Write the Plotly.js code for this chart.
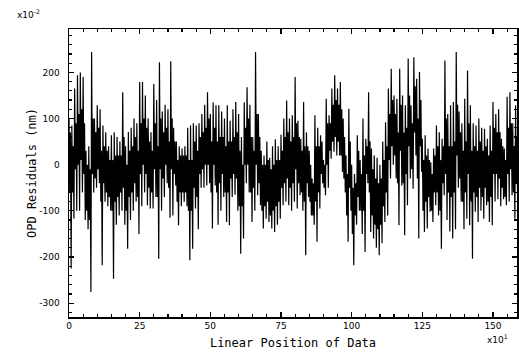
<!DOCTYPE html>
<html>
<head>
<meta charset="utf-8">
<script src="https://cdn.plot.ly/plotly-3.0.1.min.js"></script>
<style>html,body{margin:0;padding:0;background:#fff;}#chart{width:519px;height:357px;}</style>
</head>
<body>
<div id="chart"></div>
<script>
// Residuals: for each unit of x (x10^1 positions)
// the spike peak, the dense-band bottom, the dense-band top and the spike trough
const peakValues = [
  100,85,165,194,200,190,30,40,244,100,129,120,85,70,40,64,70,60,50,157,40,71,80,100,90,179,
  179,150,100,70,175,140,222,115,130,120,224,80,50,40,35,40,80,85,90,85,90,110,130,157,110,135,129,
  129,115,100,129,95,120,136,110,60,135,168,130,60,244,110,30,20,50,15,40,55,40,65,100,139,100,107,
  190,95,56,136,70,30,-30,107,80,64,10,143,107,165,194,165,179,100,20,121,0,-20,64,10,100,56,
  157,35,20,15,0,50,92,165,208,150,143,208,150,129,230,129,233,186,201,56,64,35,5,35,85,70,56,
  226,110,129,136,244,115,90,143,204,129,90,85,100,80,78,56,85,136,110,120,56,35,147,157,90,129
];
const bandLowerValues = [
  -60,-60,-10,0,10,-20,-100,-120,-20,-30,-10,-80,-40,-60,-70,-100,-80,-70,-60,-50,-100,-70,-60,-40,-70,-20,
  0,-20,-50,-60,-10,-70,-10,-30,0,-50,-10,-20,-80,-60,-60,-60,-100,-100,-50,-70,-20,-10,0,0,-60,0,-60,
  -40,-20,-60,-60,-30,-20,-30,-90,-90,0,0,-60,-50,0,-40,-100,-90,-80,-110,-100,-90,-80,-50,-40,-30,-50,-40,
  -10,-40,-60,-80,-40,-80,-110,-80,-60,-20,-50,0,30,50,60,50,20,-30,-110,-50,-150,-110,-70,-100,-100,-20,
  -60,-110,-130,-140,-130,-90,-60,10,40,20,-40,30,-40,-20,40,-10,70,-30,40,-100,-80,-70,-100,-60,-60,-100,-40,
  -20,-60,-70,-60,20,-30,-80,-60,-20,-80,-60,-70,-50,-70,-50,-80,-70,-20,-20,-30,-50,-70,-20,-10,-60,-40
];
const bandUpperValues = [
  70,40,90,110,120,90,0,-10,100,70,80,30,40,30,10,10,20,20,20,60,0,30,40,60,30,90,
  100,80,50,30,90,40,100,70,80,50,100,50,10,20,20,20,10,10,50,30,60,70,80,100,50,80,50,
  60,60,40,50,50,60,70,30,0,80,100,60,30,110,60,0,0,10,-10,0,10,10,30,60,70,50,60,
  90,60,30,40,40,0,-40,40,40,50,0,90,90,130,140,130,120,60,-20,50,-50,-40,30,-20,20,40,
  50,-10,-30,-40,-30,10,40,110,140,110,70,130,70,80,150,90,170,100,140,10,20,10,-20,20,40,10,40,
  100,40,40,50,130,70,30,50,90,30,40,30,50,30,40,20,30,80,70,70,40,10,80,90,40,60
];
const troughValues = [
  -225,-117,-100,-100,-60,-120,-140,-276,-60,-50,-40,-218,-80,-90,-100,-247,-130,-110,-100,-130,-182,-120,-100,-80,-150,-90,
  -60,-88,-95,-95,-70,-204,-100,-70,-40,-115,-110,-45,-131,-90,-80,-90,-207,-182,-95,-140,-50,-50,-45,-40,-138,-45,-130,
  -100,-70,-124,-131,-70,-65,-100,-193,-160,-40,-60,-124,-100,-66,-88,-138,-117,-124,-138,-146,-130,-117,-88,-80,-88,-100,-80,
  -95,-66,-100,-196,-70,-110,-130,-167,-95,-40,-66,-50,13,28,20,20,-16,-60,-167,-100,-218,-130,-100,-150,-189,-40,
  -146,-160,-180,-196,-170,-124,-110,-30,0,-30,-131,-45,-153,-88,-30,-52,20,-160,-15,-146,-138,-102,-124,-88,-110,-182,-66,
  -120,-145,-160,-140,-50,-80,-140,-117,-131,-204,-102,-124,-100,-117,-88,-124,-131,-80,-75,-90,-75,-88,-80,-66,-117,-102
];
const xTickVals = [0,25,50,75,100,125,150];
const xTickText = ['0','25','50','75','100','125','150'];
const yTickVals = [-300,-200,-100,0,100,200];
const yTickText = ['-300','-200','-100','0','100','200'];

const xs = [], ys = [];
for (let i = 0; i < peakValues.length; i++) {
  xs.push(i);        ys.push(peakValues[i]);
  xs.push(i + 0.25); ys.push(bandLowerValues[i]);
  xs.push(i + 0.5);  ys.push(bandUpperValues[i]);
  xs.push(i + 0.75); ys.push(troughValues[i]);
}

const tickFont = {family: 'DejaVu Sans, sans-serif', size: 9, color: '#000'};
const titleFont = {family: 'DejaVu Sans Mono, monospace', size: 12, color: '#000'};

const trace = {
  x: xs, y: ys, type: 'scatter', mode: 'lines',
  line: {color: '#000', width: 1.2, simplify: false}, hoverinfo: 'none'
};

const layout = {
  width: 519, height: 357,
  margin: {l: 69, r: 2, t: 29, b: 40},
  paper_bgcolor: '#fff', plot_bgcolor: '#fff',
  showlegend: false,
  xaxis: {
    range: [0, 158.5], showgrid: false, zeroline: false,
    showline: true, linecolor: '#000', linewidth: 1.5, mirror: 'ticks',
    ticks: 'inside', ticklen: 5, tickwidth: 1.2, tickcolor: '#000',
    tickvals: xTickVals, ticktext: xTickText, tickfont: tickFont,
    minor: {dtick: 5, tick0: 0, ticks: 'inside', ticklen: 3, tickcolor: '#000', showgrid: false},
    title: {text: 'Linear Position of Data', font: titleFont, standoff: 8}
  },
  yaxis: {
    range: [-330, 294], showgrid: false, zeroline: false,
    showline: true, linecolor: '#000', linewidth: 1.5, mirror: 'ticks',
    ticks: 'inside', ticklen: 5, tickwidth: 1.2, tickcolor: '#000',
    tickvals: yTickVals, ticktext: yTickText, tickfont: tickFont,
    ticklabelstandoff: 6,
    minor: {dtick: 20, tick0: 0, ticks: 'inside', ticklen: 3, tickcolor: '#000', showgrid: false},
    title: {text: 'OPD Residuals (nm)', font: titleFont, standoff: 0}
  },
  annotations: [
    {xref: 'paper', yref: 'paper', x: -0.12, y: 1.0, xanchor: 'left', yanchor: 'bottom', yshift: 7,
     text: 'x10<sup>-2</sup>', showarrow: false, font: {family: 'DejaVu Sans, sans-serif', size: 9, color: '#000'}},
    {xref: 'paper', yref: 'paper', x: 0.985, y: 0, xanchor: 'right', yanchor: 'top', yshift: -14,
     text: 'x10<sup>1</sup>', showarrow: false, font: {family: 'DejaVu Sans, sans-serif', size: 9, color: '#000'}}
  ]
};

Plotly.newPlot('chart', [trace], layout, {staticPlot: true, displayModeBar: false});
</script>
</body>
</html>
